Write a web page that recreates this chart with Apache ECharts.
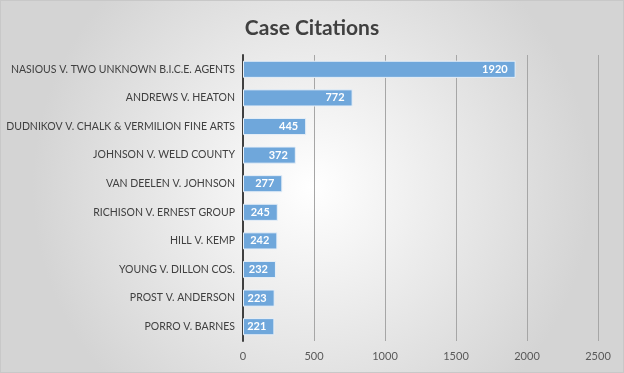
<!DOCTYPE html>
<html><head><meta charset="utf-8">
<script src="https://cdn.jsdelivr.net/npm/echarts@6/dist/echarts.min.js"></script>
<style>html,body{margin:0;padding:0;}#c{width:624px;height:373px;}</style>
</head><body><div id="c"></div>
<script>
const categories = ["NASIOUS V. TWO UNKNOWN B.I.C.E. AGENTS","ANDREWS V. HEATON","DUDNIKOV V. CHALK & VERMILION FINE ARTS","JOHNSON V. WELD COUNTY","VAN DEELEN V. JOHNSON","RICHISON V. ERNEST GROUP","HILL V. KEMP","YOUNG V. DILLON COS.","PROST V. ANDERSON","PORRO V. BARNES"];
const citations = [1920,772,445,372,277,245,242,232,223,221];
const xTicks = [0,500,1000,1500,2000,2500];

const chart = echarts.init(document.getElementById('c'));
chart.setOption({
  backgroundColor: new echarts.graphic.RadialGradient(0.5,0.5,0.75,[
    {offset:0,color:'#ffffff'},{offset:1,color:'#d4d4d4'}]),
  animation:false,
  title:{text:'Case Citations',left:'center',top:13,
    textStyle:{fontFamily:'Lato',fontSize:21,fontWeight:'bold',color:'#404040'}},
  grid:{left:243,right:26,top:55,bottom:32,containLabel:false,outerBoundsMode:'none'},
  xAxis:{type:'value',min:xTicks[0],max:xTicks[xTicks.length-1],interval:500,
    axisLine:{show:false},axisTick:{show:false},
    axisLabel:{color:'#595959',fontFamily:'Lato',fontSize:11,margin:10,formatter:v=>String(v)},
    splitLine:{lineStyle:{color:'#a6a6a6',width:1}}},
  yAxis:{type:'category',data:categories,inverse:true,
    axisLine:{show:true,lineStyle:{color:'#404040',width:2}},axisTick:{show:false},
    axisLabel:{color:'#404040',fontFamily:'Lato',fontSize:10.5,margin:8}},
  series:[{type:'bar',data:citations,barWidth:'60%',
    itemStyle:{color:'#6fa7db',borderColor:'#e8f0f8',borderWidth:1},
    label:{show:true,position:'insideRight',color:'#ffffff',fontFamily:'Lato',fontSize:11,fontWeight:'bold',offset:[-3,0]}}]
});
</script>
<div style="position:absolute;left:0;top:0;width:622px;height:371px;border:1px solid #c8c8c8;pointer-events:none"></div>
</body></html>
